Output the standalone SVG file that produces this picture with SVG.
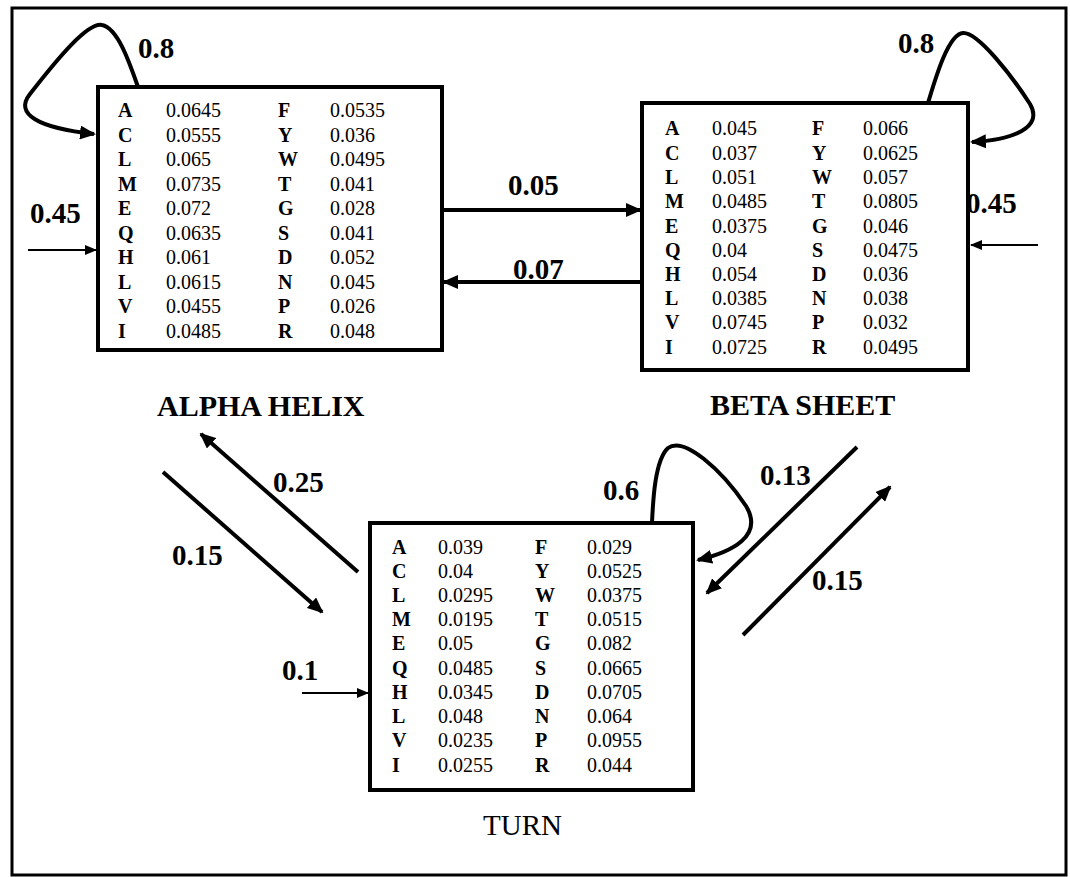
<svg xmlns="http://www.w3.org/2000/svg" width="1070" height="877" viewBox="0 0 1070 877">
<style>
.box{fill:#fff;stroke:#000;stroke-width:4}
.t{font-family:"Liberation Serif","Times New Roman",serif;font-size:20px;fill:#000}
.k{font-weight:bold}
.lbl{font-family:"Liberation Serif","Times New Roman",serif;font-size:29px;font-weight:bold;fill:#000}
.name{font-family:"Liberation Serif","Times New Roman",serif;font-size:30px;font-weight:bold;fill:#000}
.e{fill:none;stroke:#000;stroke-width:4}
.in{fill:none;stroke:#000;stroke-width:2}
</style>
<defs>
<marker id="ah" markerUnits="userSpaceOnUse" markerWidth="16" markerHeight="14" refX="14" refY="7" orient="auto">
<path d="M0,0 L16,7 L0,14 Z" fill="#000"/>
</marker>
<marker id="ahs" markerUnits="userSpaceOnUse" markerWidth="12" markerHeight="10" refX="11" refY="5" orient="auto">
<path d="M0,0 L12,5 L0,10 Z" fill="#000"/>
</marker>
</defs>
<rect x="0" y="0" width="1070" height="877" fill="#fff"/>
<rect x="12" y="8" width="1054" height="867" fill="none" stroke="#000" stroke-width="3"/>

<g id="alpha">
<rect class="box" x="98" y="87" width="344" height="263"/>
<g class="t">
<text class="k" x="118" y="117">A</text><text x="166" y="117">0.0645</text><text class="k" x="278" y="117">F</text><text x="330" y="117">0.0535</text>
<text class="k" x="118" y="142">C</text><text x="166" y="142">0.0555</text><text class="k" x="278" y="142">Y</text><text x="330" y="142">0.036</text>
<text class="k" x="118" y="166">L</text><text x="166" y="166">0.065</text><text class="k" x="278" y="166">W</text><text x="330" y="166">0.0495</text>
<text class="k" x="118" y="191">M</text><text x="166" y="191">0.0735</text><text class="k" x="278" y="191">T</text><text x="330" y="191">0.041</text>
<text class="k" x="118" y="215">E</text><text x="166" y="215">0.072</text><text class="k" x="278" y="215">G</text><text x="330" y="215">0.028</text>
<text class="k" x="118" y="240">Q</text><text x="166" y="240">0.0635</text><text class="k" x="278" y="240">S</text><text x="330" y="240">0.041</text>
<text class="k" x="118" y="264">H</text><text x="166" y="264">0.061</text><text class="k" x="278" y="264">D</text><text x="330" y="264">0.052</text>
<text class="k" x="118" y="289">L</text><text x="166" y="289">0.0615</text><text class="k" x="278" y="289">N</text><text x="330" y="289">0.045</text>
<text class="k" x="118" y="313">V</text><text x="166" y="313">0.0455</text><text class="k" x="278" y="313">P</text><text x="330" y="313">0.026</text>
<text class="k" x="118" y="338">I</text><text x="166" y="338">0.0485</text><text class="k" x="278" y="338">R</text><text x="330" y="338">0.048</text>
</g>
<text class="name" x="157" y="416">ALPHA HELIX</text>
</g>

<g id="beta">
<rect class="box" x="642" y="103" width="326" height="267"/>
<g class="t">
<text class="k" x="665" y="135">A</text><text x="712" y="135">0.045</text><text class="k" x="812" y="135">F</text><text x="863" y="135">0.066</text>
<text class="k" x="665" y="160">C</text><text x="712" y="160">0.037</text><text class="k" x="812" y="160">Y</text><text x="863" y="160">0.0625</text>
<text class="k" x="665" y="184">L</text><text x="712" y="184">0.051</text><text class="k" x="812" y="184">W</text><text x="863" y="184">0.057</text>
<text class="k" x="665" y="208">M</text><text x="712" y="208">0.0485</text><text class="k" x="812" y="208">T</text><text x="863" y="208">0.0805</text>
<text class="k" x="665" y="233">E</text><text x="712" y="233">0.0375</text><text class="k" x="812" y="233">G</text><text x="863" y="233">0.046</text>
<text class="k" x="665" y="257">Q</text><text x="712" y="257">0.04</text><text class="k" x="812" y="257">S</text><text x="863" y="257">0.0475</text>
<text class="k" x="665" y="281">H</text><text x="712" y="281">0.054</text><text class="k" x="812" y="281">D</text><text x="863" y="281">0.036</text>
<text class="k" x="665" y="305">L</text><text x="712" y="305">0.0385</text><text class="k" x="812" y="305">N</text><text x="863" y="305">0.038</text>
<text class="k" x="665" y="329">V</text><text x="712" y="329">0.0745</text><text class="k" x="812" y="329">P</text><text x="863" y="329">0.032</text>
<text class="k" x="665" y="354">I</text><text x="712" y="354">0.0725</text><text class="k" x="812" y="354">R</text><text x="863" y="354">0.0495</text>
</g>
<text class="name" x="710" y="415">BETA SHEET</text>
</g>

<g id="turn">
<rect class="box" x="370" y="523" width="323" height="267"/>
<g class="t">
<text class="k" x="392" y="554">A</text><text x="438" y="554">0.039</text><text class="k" x="535" y="554">F</text><text x="587" y="554">0.029</text>
<text class="k" x="392" y="578">C</text><text x="438" y="578">0.04</text><text class="k" x="535" y="578">Y</text><text x="587" y="578">0.0525</text>
<text class="k" x="392" y="602">L</text><text x="438" y="602">0.0295</text><text class="k" x="535" y="602">W</text><text x="587" y="602">0.0375</text>
<text class="k" x="392" y="626">M</text><text x="438" y="626">0.0195</text><text class="k" x="535" y="626">T</text><text x="587" y="626">0.0515</text>
<text class="k" x="392" y="650">E</text><text x="438" y="650">0.05</text><text class="k" x="535" y="650">G</text><text x="587" y="650">0.082</text>
<text class="k" x="392" y="675">Q</text><text x="438" y="675">0.0485</text><text class="k" x="535" y="675">S</text><text x="587" y="675">0.0665</text>
<text class="k" x="392" y="699">H</text><text x="438" y="699">0.0345</text><text class="k" x="535" y="699">D</text><text x="587" y="699">0.0705</text>
<text class="k" x="392" y="723">L</text><text x="438" y="723">0.048</text><text class="k" x="535" y="723">N</text><text x="587" y="723">0.064</text>
<text class="k" x="392" y="747">V</text><text x="438" y="747">0.0235</text><text class="k" x="535" y="747">P</text><text x="587" y="747">0.0955</text>
<text class="k" x="392" y="772">I</text><text x="438" y="772">0.0255</text><text class="k" x="535" y="772">R</text><text x="587" y="772">0.044</text>
</g>
<text x="483" y="835" style="font-family:'Liberation Serif','Times New Roman',serif;font-size:29px;fill:#000">TURN</text>
</g>

<g id="connectors">
<path class="e" d="M138,87 C130,64 118,28 102,25 C88,22 58,58 30,94 C14,114 38,128 94,134" marker-end="url(#ah)"/>
<path class="e" d="M928,103 C935,80 948,34 963,33 C978,32 1012,76 1030,104 C1044,128 1012,140 972,142" marker-end="url(#ah)"/>
<path class="e" d="M652,523 C653,500 655,460 668,448 C684,436 722,470 746,506 C764,536 732,552 698,560" marker-end="url(#ah)"/>
<line class="e" x1="442" y1="210" x2="640" y2="210" marker-end="url(#ah)"/>
<line class="e" x1="642" y1="282" x2="444" y2="282" marker-end="url(#ah)"/>
<line class="e" x1="358" y1="572" x2="201" y2="434" marker-end="url(#ah)"/>
<line class="e" x1="163" y1="472" x2="322" y2="612" marker-end="url(#ah)"/>
<line class="e" x1="857" y1="447" x2="707" y2="593" marker-end="url(#ah)"/>
<line class="e" x1="743" y1="635" x2="890" y2="487" marker-end="url(#ah)"/>
<line class="in" x1="28" y1="250" x2="96" y2="250" marker-end="url(#ahs)"/>
<line class="in" x1="1038" y1="245" x2="971" y2="245" marker-end="url(#ahs)"/>
<line class="in" x1="302" y1="693" x2="368" y2="693" marker-end="url(#ahs)"/>
</g>

<g id="labels">
<text class="lbl" x="138" y="58">0.8</text>
<text class="lbl" x="898" y="53">0.8</text>
<text class="lbl" x="30" y="223">0.45</text>
<text class="lbl" x="966" y="213">0.45</text>
<text class="lbl" x="508" y="195">0.05</text>
<text class="lbl" x="513" y="279">0.07</text>
<text class="lbl" x="273" y="492">0.25</text>
<text class="lbl" x="172" y="565">0.15</text>
<text class="lbl" x="282" y="680">0.1</text>
<text class="lbl" x="603" y="500">0.6</text>
<text class="lbl" x="760" y="485">0.13</text>
<text class="lbl" x="812" y="590">0.15</text>
</g>
</svg>
